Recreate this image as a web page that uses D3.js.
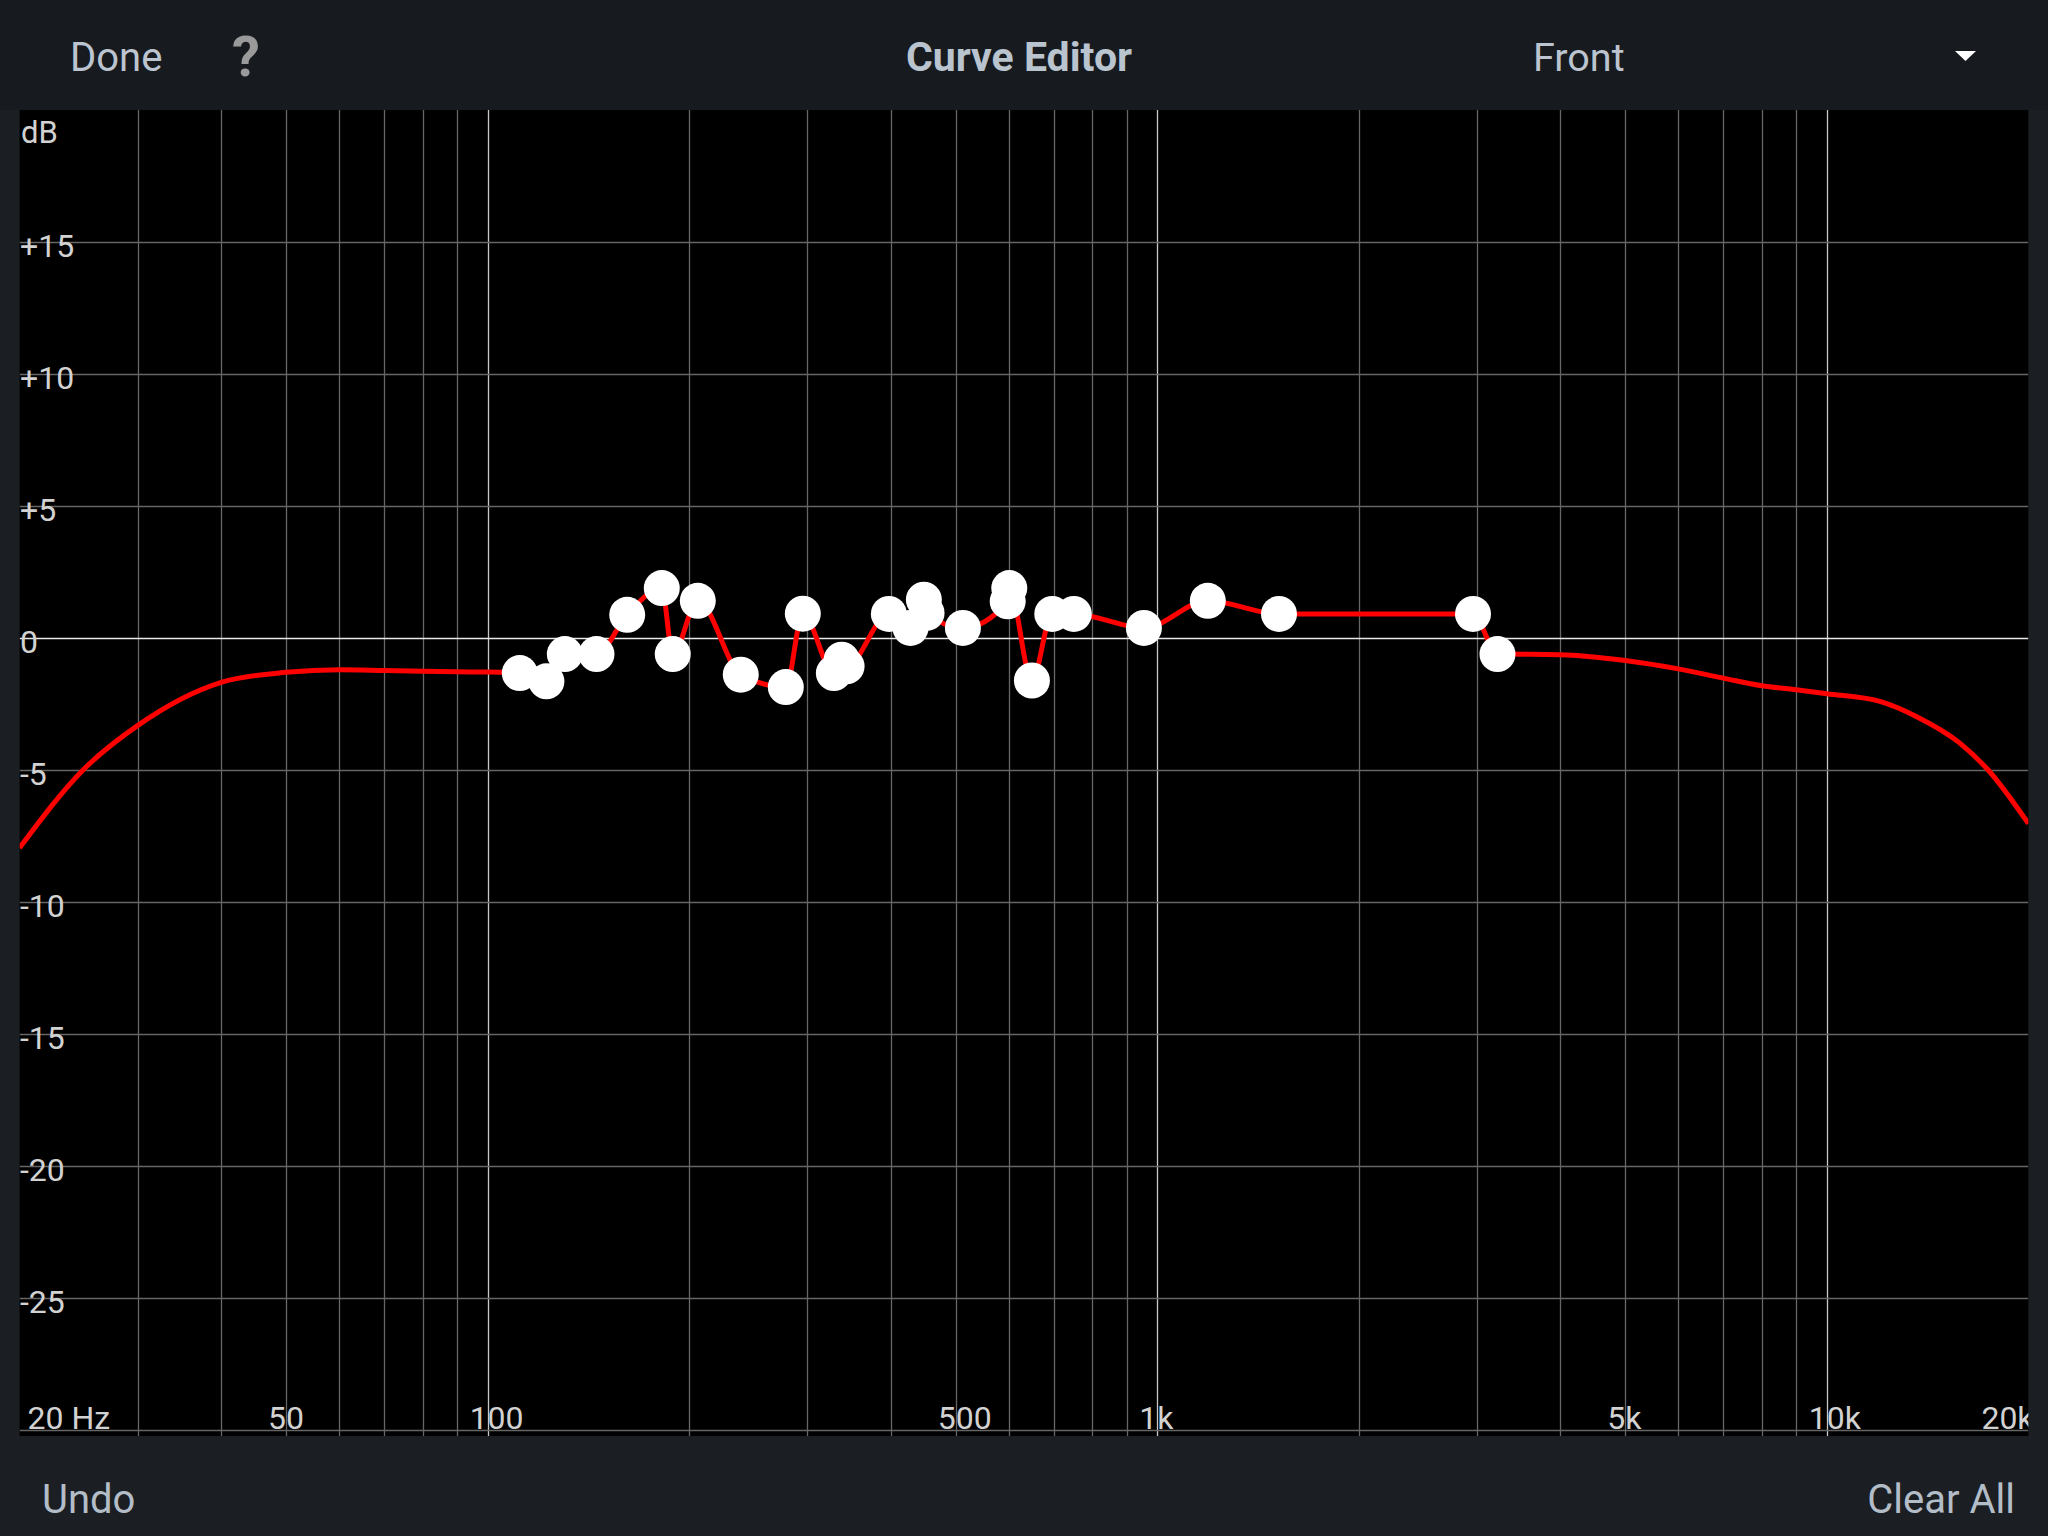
<!DOCTYPE html>
<html>
<head>
<meta charset="utf-8">
<script src="https://cdn.jsdelivr.net/npm/d3@7"></script>
<style>
  html, body { margin: 0; padding: 0; background: #1b1e22; }
  svg { display: block; font-family: Roboto, "Noto Sans", sans-serif; }
</style>
</head>
<body>
<div id="chart"></div>
<script>
// EQ control points (Hz / dB)
const pointFreq = [111.7, 122.4, 130.4, 145.4, 161.6, 182, 189, 206, 238.8, 278.8, 295.6,
    328.9, 337.8, 343.6, 397.4, 428.1, 448.2, 452.4, 512.6, 598, 601.2, 649.9, 697, 750.7,
    955.2, 1190, 1520, 2962, 3222];
const pointGain = [-1.33, -1.64, -0.61, -0.61, 0.88, 1.89, -0.61, 1.41, -1.39, -1.86, 0.92,
    -1.33, -0.82, -1.07, 0.91, 0.38, 1.45, 0.95, 0.38, 1.39, 1.89, -1.61, 0.91, 0.91,
    0.38, 1.41, 0.91, 0.91, -0.61];

// response curve outside the control points
const leftTailFreq = [20, 24.9, 30, 40, 50, 60, 70, 80, 90, 100];
const leftTailGain = [-7.95, -4.99, -3.32, -1.68, -1.30, -1.20, -1.23, -1.26, -1.28, -1.29];
const rightTailFreq = [4000, 5000, 6000, 7000, 8000, 9000, 10000, 12000, 13600, 15800, 17400, 20000];
const rightTailGain = [-0.63, -0.85, -1.17, -1.52, -1.81, -1.96, -2.11, -2.40, -2.97, -3.98, -4.99, -7.03];

// axis labels
const dbTicks = [15, 10, 5, 0, -5, -10, -15, -20, -25];
const dbLabels = ["+15", "+10", "+5", "0", "-5", "-10", "-15", "-20", "-25"];
const freqTicks = [20, 50, 100, 500, 1000, 5000, 10000, 20000];
const freqLabels = ["20 Hz", "50", "100", "500", "1k", "5k", "10k", "20k"];

const width = 2048;
const height = 1536;
const plotLeft = 19.6, plotRight = 2028.4, plotTop = 110, plotBottom = 1430, blackBottom = 1436;

const svg = d3.select("#chart")
    .append("svg")
    .attr("width", width)
    .attr("height", height);

// header / footer bars
svg.append("rect").attr("width", width).attr("height", height).attr("fill", "#1b1e22");
svg.append("rect").attr("width", width).attr("height", plotTop).attr("fill", "#171a1f");
svg.append("rect")
    .attr("x", plotLeft).attr("y", plotTop)
    .attr("width", plotRight - plotLeft).attr("height", blackBottom - plotTop)
    .attr("fill", "#000");

const x = d3.scaleLog().domain([20, 20000]).range([plotLeft, plotRight]);
const y = d3.scaleLinear().domain([-30, 20]).range([plotBottom, plotTop]);

svg.append("defs").append("clipPath").attr("id", "plot")
    .append("rect")
    .attr("x", plotLeft).attr("y", plotTop)
    .attr("width", plotRight - plotLeft).attr("height", blackBottom - plotTop);

const plot = svg.append("g").attr("clip-path", "url(#plot)");

// vertical grid
const majors = [100, 1000, 10000];
plot.append("g")
    .selectAll("line")
    .data(x.ticks().filter(f => f > 20 && f < 20000))
    .enter().append("line")
    .attr("x1", d => Math.round(x(d)) + 0.5)
    .attr("x2", d => Math.round(x(d)) + 0.5)
    .attr("y1", plotTop)
    .attr("y2", blackBottom)
    .attr("stroke", d => majors.includes(d) ? "#c8c8c8" : "#666")
    .attr("stroke-width", 1.3);

// horizontal grid
plot.append("g")
    .selectAll("line")
    .data(d3.range(-30, 20, 5))
    .enter().append("line")
    .attr("x1", plotLeft)
    .attr("x2", plotRight)
    .attr("y1", d => Math.round(y(d)) + 0.5)
    .attr("y2", d => Math.round(y(d)) + 0.5)
    .attr("stroke", d => d === 0 ? "#e8e8e8" : "#666")
    .attr("stroke-width", d => d === 0 ? 1.6 : 1.3);

// dB labels
plot.append("text")
    .attr("x", 21).attr("y", 143)
    .attr("fill", "#d2d2d2").attr("font-size", 31)
    .text("dB");

plot.append("g")
    .selectAll("text")
    .data(dbTicks)
    .enter().append("text")
    .attr("x", 20)
    .attr("y", d => y(d) + 15)
    .attr("fill", "#d2d2d2")
    .attr("font-size", 32)
    .text((d, i) => dbLabels[i]);

// frequency labels
plot.append("g")
    .selectAll("text")
    .data(freqTicks)
    .enter().append("text")
    .attr("x", d => d === 20 ? plotLeft + 8 : d === 20000 ? plotRight - 47 : x(d) - 18)
    .attr("y", 1429)
    .attr("fill", "#d2d2d2")
    .attr("font-size", 32)
    .text((d, i) => freqLabels[i]);

// response curve
const curveData = leftTailFreq.map((f, i) => [f, leftTailGain[i]])
    .concat(pointFreq.map((f, i) => [f, pointGain[i]]))
    .concat(rightTailFreq.map((f, i) => [f, rightTailGain[i]]));

const line = d3.line()
    .x(d => x(d[0]))
    .y(d => y(d[1]))
    .curve(d3.curveMonotoneX);

plot.append("path")
    .datum(curveData)
    .attr("d", line)
    .attr("fill", "none")
    .attr("stroke", "#ff0000")
    .attr("stroke-width", 5)
    .attr("stroke-linejoin", "round");

// control points
plot.append("g")
    .selectAll("circle")
    .data(pointFreq)
    .enter().append("circle")
    .attr("cx", d => x(d))
    .attr("cy", (d, i) => y(pointGain[i]))
    .attr("r", 18)
    .attr("fill", "#fff");

// header text
svg.append("text").attr("x", 70).attr("y", 71)
    .attr("fill", "#bcc5cf").attr("font-size", 40).text("Done");
svg.append("text").attr("x", 232).attr("y", 76)
    .attr("fill", "#9a9a9a").attr("font-size", 56).attr("font-weight", "bold").text("?");
svg.append("text").attr("x", 1019).attr("y", 71)
    .attr("text-anchor", "middle")
    .attr("fill", "#b9c4cf").attr("font-size", 41).attr("font-weight", "bold").text("Curve Editor");
svg.append("text").attr("x", 1533).attr("y", 71)
    .attr("fill", "#bcc5cf").attr("font-size", 39.5).text("Front");
svg.append("path")
    .attr("d", "M1955,51 L1976,51 L1965.5,61 Z")
    .attr("fill", "#fff");

// footer text
svg.append("text").attr("x", 42).attr("y", 1513)
    .attr("fill", "#b3bdc8").attr("font-size", 40).text("Undo");
svg.append("text").attr("x", 2015).attr("y", 1513)
    .attr("text-anchor", "end")
    .attr("fill", "#b3bdc8").attr("font-size", 40).text("Clear All");
</script>
</body>
</html>
